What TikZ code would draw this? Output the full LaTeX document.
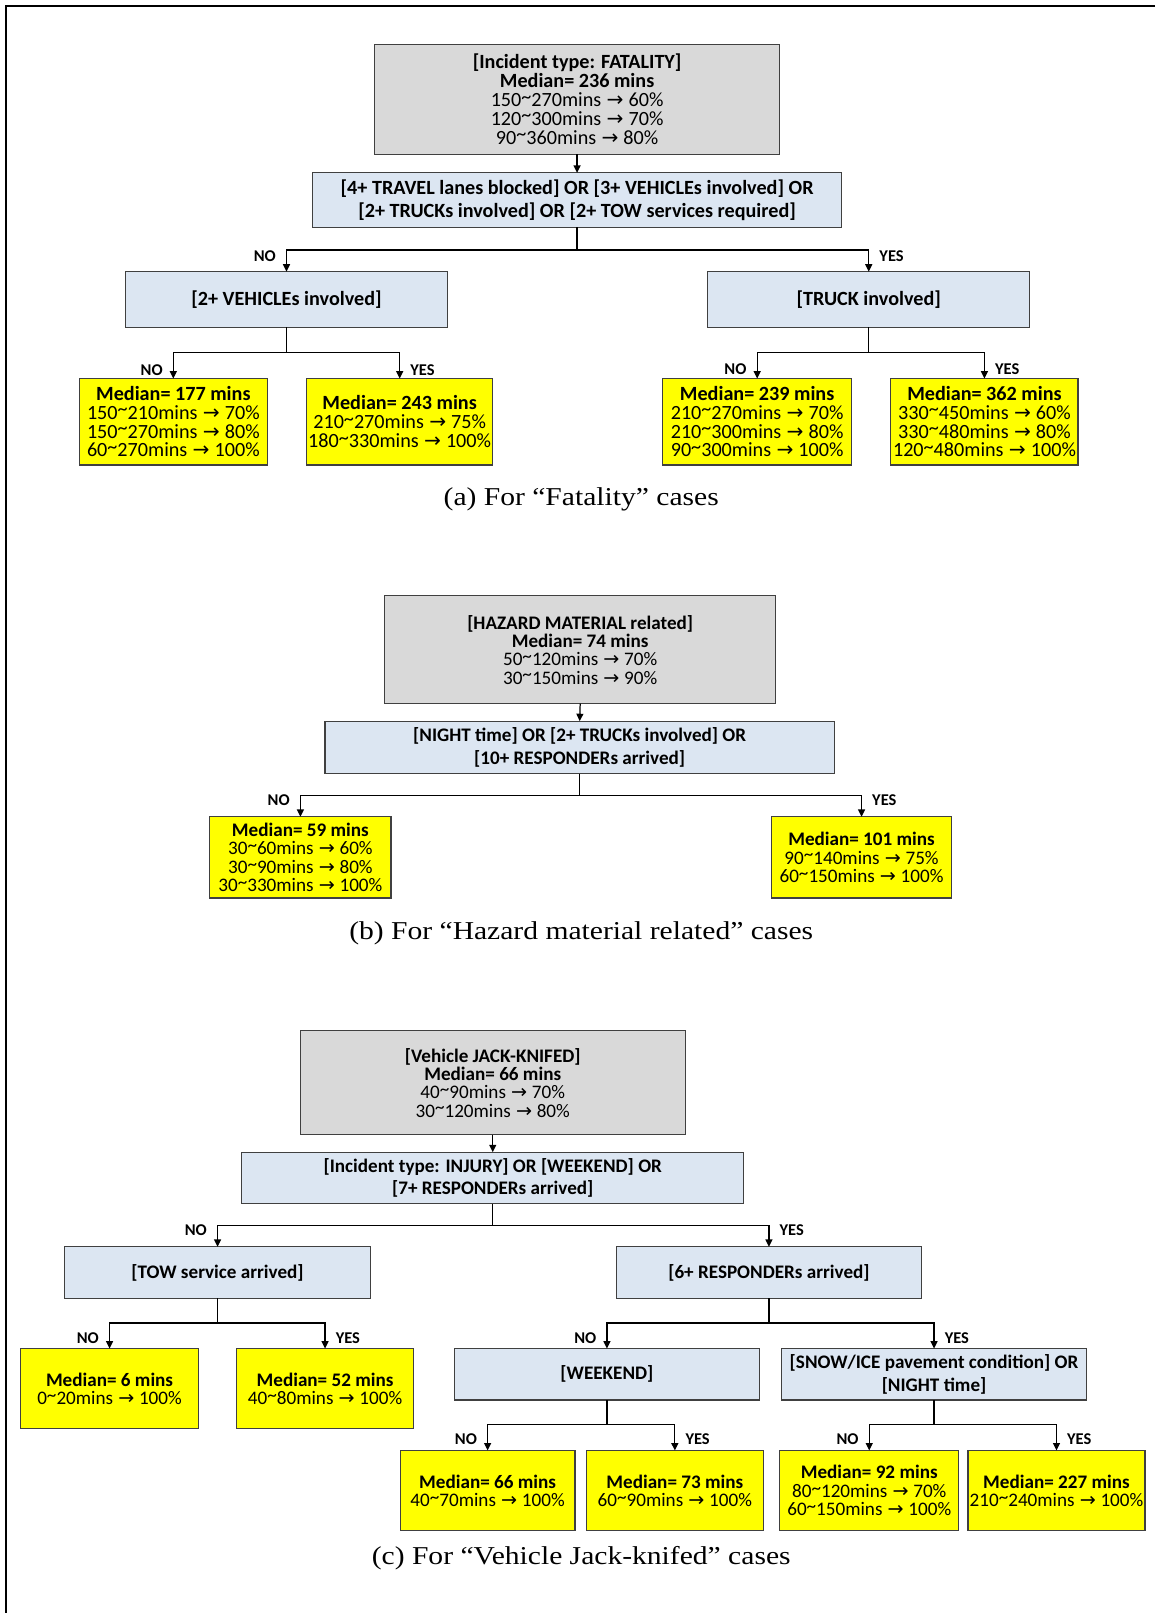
\documentclass[tikz,border=0pt]{standalone}
\usepackage{fontspec}
\setmainfont{Carlito}
\newfontfamily\capfont{Liberation Serif}[FakeStretch=1.15]
\newfontfamily\arrfont{DejaVu Sans}
\usetikzlibrary{arrows.meta,calc}
\newcommand{\rarw}{\hspace{0.4pt}{\arrfont\char"2192}\hspace{0.2pt}}
\newcommand{\tld}{\raisebox{0.35ex}{\textasciitilde}}
\definecolor{grayfill}{HTML}{D9D9D9}
\definecolor{bluefill}{HTML}{DCE6F2}
\definecolor{yelfill}{HTML}{FFFF00}
\definecolor{edge}{HTML}{404040}
\begin{document}
\begin{tikzpicture}[x=0.5pt,y=-0.5pt,
  rect/.style n args={4}{at={({(#1+#3)/2},{(#2+#4)/2})}, minimum width={(#3-#1)*0.5pt}, minimum height={(#4-#2)*0.5pt}},
  base/.style={draw=edge, line width=0.6pt, inner sep=0pt, outer sep=0pt, align=center, anchor=center},
  gbox/.style={base, fill=grayfill, font=\fontsize{9.8}{9.15}\selectfont},
  bbox/.style={base, fill=bluefill, font=\bfseries\fontsize{9.8}{11}\selectfont},
  ybox/.style={base, fill=yelfill, font=\fontsize{9.8}{9.15}\selectfont},
  small/.style={font=\fontsize{9.3}{8.9}\selectfont},
  smallb/.style={font=\bfseries\fontsize{9.3}{10.8}\selectfont},
  conn/.style={line width=0.6pt, draw=black},
  arr/.style={conn, -{Triangle[length=3.6pt,width=3.4pt]}},
  lab/.style={font=\bfseries\fontsize{8}{9}\selectfont, inner sep=0pt},
  labno/.style={lab, anchor=east},
  labyes/.style={lab, anchor=west},
  captext/.style={font=\capfont\fontsize{12.5}{14}\selectfont, inner sep=0pt}
]
\useasboundingbox (0,0) rectangle (1123,1568);
\draw[line width=1pt] (1123,5.5) -- (5.5,5.5) -- (5.5,1568);

% ---------------- (a) ----------------
\node[gbox, rect={364}{43}{758}{150}] (ta) {\textbf{[Incident type: FATALITY]}\\\textbf{Median= 236 mins}\\150\tld270mins \rarw{} 60\%\\120\tld300mins \rarw{} 70\%\\90\tld360mins \rarw{} 80\%};
\node[bbox, rect={304}{168}{818}{221}] (ca) {[4+ TRAVEL lanes blocked] OR [3+ VEHICLEs involved] OR\\{[2+ TRUCKs involved] OR [2+ TOW services required]}};
\node[bbox, rect={122}{264}{435}{318}] (va) {[2+ VEHICLEs involved]};
\node[bbox, rect={688}{264}{1001}{318}] (ka) {[TRUCK involved]};
\node[ybox, rect={77}{368}{260}{452}] (la1) {\textbf{Median= 177 mins}\\150\tld210mins \rarw{} 70\%\\150\tld270mins \rarw{} 80\%\\60\tld270mins \rarw{} 100\%};
\node[ybox, rect={298}{368}{479}{452}] (la2) {\textbf{Median= 243 mins}\\210\tld270mins \rarw{} 75\%\\180\tld330mins \rarw{} 100\%};
\node[ybox, rect={644}{368}{828}{452}] (la3) {\textbf{Median= 239 mins}\\210\tld270mins \rarw{} 70\%\\210\tld300mins \rarw{} 80\%\\90\tld300mins \rarw{} 100\%};
\node[ybox, rect={866}{368}{1048}{452}] (la4) {\textbf{Median= 362 mins}\\330\tld450mins \rarw{} 60\%\\330\tld480mins \rarw{} 80\%\\120\tld480mins \rarw{} 100\%};

\draw[arr] (ta.south) -- (ca.north);
\coordinate (fa1) at (0,243);
\coordinate (fa2) at (0,343);
\draw[arr] (ca.south) -- (ca.south |- fa1) -| (va.north);
\draw[arr] (ca.south |- fa1) -| (ka.north);
\draw[arr] (va.south) -- (va.south |- fa2) -| (la1.north);
\draw[arr] (va.south |- fa2) -| (la2.north);
\draw[arr] (ka.south) -- (ka.south |- fa2) -| (la3.north);
\draw[arr] (ka.south |- fa2) -| (la4.north);

\node[labno]  (na1) at ($(va.north |- 0,249)+(-10,0)$) {NO};
\node[labyes] (ya1) at ($(ka.north |- 0,249)+(10,0)$) {YES};
\node[labno]  (na2) at ($(la1.north |- 0,360)+(-10,0)$) {NO};
\node[labyes] (ya2) at ($(la2.north |- 0,360)+(10,0)$) {YES};
\node[labno]  (na3) at ($(la3.north |- 0,359)+(-10,0)$) {NO};
\node[labyes] (ya3) at ($(la4.north |- 0,359)+(10,0)$) {YES};

\node[captext] (capa) at (565,485) {(a) For “Fatality” cases};

% ---------------- (b) ----------------
\node[gbox, small, rect={374}{579}{754}{684}] (tb) {\textbf{[HAZARD MATERIAL related]}\\\textbf{Median= 74 mins}\\50\tld120mins \rarw{} 70\%\\30\tld150mins \rarw{} 90\%};
\node[bbox, smallb, rect={316}{701}{811}{752}] (cb) {[NIGHT time] OR [2+ TRUCKs involved] OR\\{[10+ RESPONDERs arrived]}};
\node[ybox, small, rect={204}{794}{380}{873}] (lb1) {\textbf{Median= 59 mins}\\30\tld60mins \rarw{} 60\%\\30\tld90mins \rarw{} 80\%\\30\tld330mins \rarw{} 100\%};
\node[ybox, small, rect={750}{794}{925}{873}] (lb2) {\textbf{Median= 101 mins}\\90\tld140mins \rarw{} 75\%\\60\tld150mins \rarw{} 100\%};

\draw[arr] (tb.south) -- (cb.north);
\coordinate (fb1) at (0,773);
\draw[arr] (cb.south) -- (cb.south |- fb1) -| (lb1.north);
\draw[arr] (cb.south |- fb1) -| (lb2.north);
\node[labno]  (nb1) at ($(lb1.north |- 0,778)+(-10,0)$) {NO};
\node[labyes] (yb1) at ($(lb2.north |- 0,778)+(10,0)$) {YES};

\node[captext] (capb) at (565,907) {(b) For “Hazard material related” cases};

% ---------------- (c) ----------------
\node[gbox, small, rect={292}{1002}{666}{1103}] (tc) {\textbf{[Vehicle JACK-KNIFED]}\\\textbf{Median= 66 mins}\\40\tld90mins \rarw{} 70\%\\30\tld120mins \rarw{} 80\%};
\node[bbox, smallb, rect={235}{1120}{723}{1170}] (cc) {[Incident type: INJURY] OR [WEEKEND] OR\\{[7+ RESPONDERs arrived]}};
\node[bbox, smallb, rect={63}{1212}{360}{1262}] (tw) {[TOW service arrived]};
\node[bbox, smallb, rect={599}{1212}{896}{1262}] (rs) {[6+ RESPONDERs arrived]};
\node[ybox, small, rect={20}{1311}{193}{1389}] (lc1) {\textbf{Median= 6 mins}\\0\tld20mins \rarw{} 100\%};
\node[ybox, small, rect={230}{1311}{402}{1389}] (lc2) {\textbf{Median= 52 mins}\\40\tld80mins \rarw{} 100\%};
\node[bbox, smallb, rect={442}{1311}{738}{1361}] (wk) {[WEEKEND]};
\node[bbox, smallb, rect={760}{1311}{1056}{1361}] (sn) {[SNOW/ICE pavement condition] OR\\{[NIGHT time]}};
\node[ybox, small, rect={389}{1410}{559}{1488}] (lc3) {\textbf{Median= 66 mins}\\40\tld70mins \rarw{} 100\%};
\node[ybox, small, rect={570}{1410}{742}{1488}] (lc4) {\textbf{Median= 73 mins}\\60\tld90mins \rarw{} 100\%};
\node[ybox, small, rect={758}{1410}{932}{1488}] (lc5) {\textbf{Median= 92 mins}\\80\tld120mins \rarw{} 70\%\\60\tld150mins \rarw{} 100\%};
\node[ybox, small, rect={941}{1410}{1113}{1488}] (lc6) {\textbf{Median= 227 mins}\\210\tld240mins \rarw{} 100\%};

\draw[arr] (tc.south) -- (cc.north);
\coordinate (fc1) at (0,1191);
\coordinate (fc2) at (0,1286);
\coordinate (fc3) at (0,1385);
\draw[arr] (cc.south) -- (cc.south |- fc1) -| (tw.north);
\draw[arr] (cc.south |- fc1) -| (rs.north);
\draw[arr] (tw.south) -- (tw.south |- fc2) -| (lc1.north);
\draw[arr] (tw.south |- fc2) -| (lc2.north);
\draw[arr] (rs.south) -- (rs.south |- fc2) -| (wk.north);
\draw[arr] (rs.south |- fc2) -| (sn.north);
\draw[arr] (wk.south) -- (wk.south |- fc3) -| (lc3.north);
\draw[arr] (wk.south |- fc3) -| (lc4.north);
\draw[arr] (sn.south) -- (sn.south |- fc3) -| (lc5.north);
\draw[arr] (sn.south |- fc3) -| (lc6.north);

\node[labno]  (nc1) at ($(tw.north |- 0,1196)+(-10,0)$) {NO};
\node[labyes] (yc1) at ($(rs.north |- 0,1196)+(10,0)$) {YES};
\node[labno]  (nc2) at ($(lc1.north |- 0,1301)+(-10,0)$) {NO};
\node[labyes] (yc2) at ($(lc2.north |- 0,1301)+(10,0)$) {YES};
\node[labno]  (nc3) at ($(wk.north |- 0,1301)+(-10,0)$) {NO};
\node[labyes] (yc3) at ($(sn.north |- 0,1301)+(10,0)$) {YES};
\node[labno]  (nc4) at ($(lc3.north |- 0,1399)+(-10,0)$) {NO};
\node[labyes] (yc4) at ($(lc4.north |- 0,1399)+(10,0)$) {YES};
\node[labno]  (nc5) at ($(lc5.north |- 0,1399)+(-10,0)$) {NO};
\node[labyes] (yc5) at ($(lc6.north |- 0,1399)+(10,0)$) {YES};

\node[captext] (capc) at (565,1515) {(c) For “Vehicle Jack-knifed” cases};
\end{tikzpicture}
\end{document}
